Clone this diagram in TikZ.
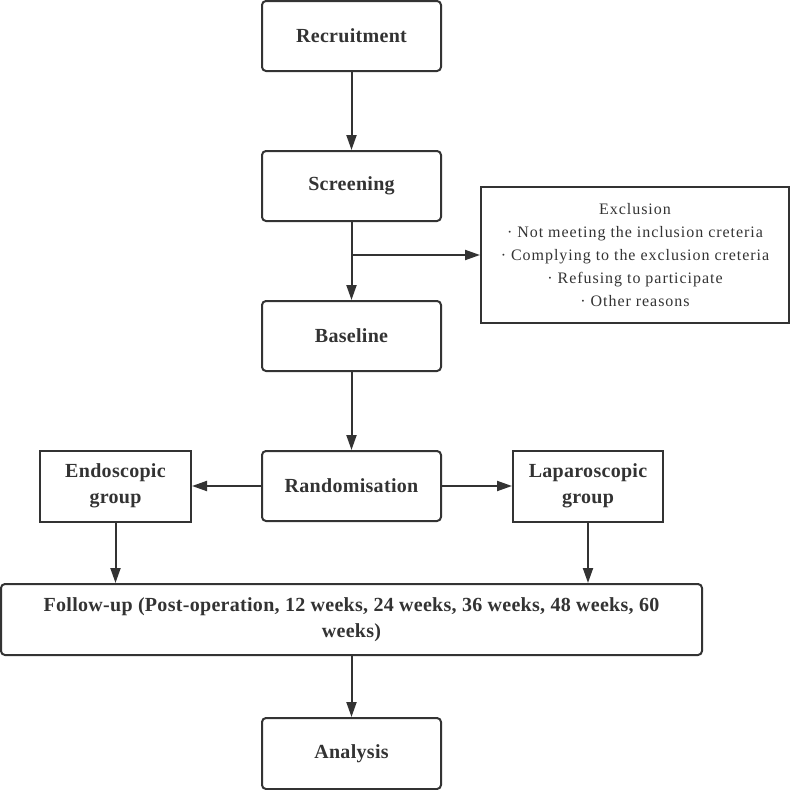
\documentclass[tikz,border=0pt]{standalone}
\usepackage{fontspec}
\setmainfont{Liberation Serif}
\newfontfamily\boxfont[LetterSpace=1.5]{Liberation Serif}
\newfontfamily\exclfont[LetterSpace=6]{Liberation Serif}
\usetikzlibrary{arrows.meta,positioning,calc}
\definecolor{ink}{HTML}{333333}

\tikzset{
    box/.style={draw=ink, line width=2pt, rounded corners=4pt, text=ink,
        minimum width=179pt, minimum height=70pt, align=center,
        font=\boxfont\fontsize{20}{26}\selectfont\bfseries},
    groupbox/.style={box, rounded corners=0pt, minimum width=151pt, minimum height=71pt},
    exclbox/.style={draw=ink, line width=2pt, text=ink, align=center,
        minimum width=308pt, minimum height=136pt,
        font=\exclfont\fontsize{16}{23}\selectfont},
    flow/.style={draw=ink, line width=2pt, -{Triangle[length=15pt,width=10pt]}}
}

\begin{document}
\begin{tikzpicture}[x=1pt, y=-1pt]
    \useasboundingbox (0,0) rectangle (790,790);

    % Draw the main column of boxes
    \node[box] (rec) at (351.5,36) {Recruitment};
    \node[box] (scr) at (351.5,186) {Screening};
    \node[box] (base) at (351.5,336) {Baseline};
    \node[box] (rand) at (351.5,486) {Randomisation};

    % Draw the two groups
    \node[groupbox] (endo) at (115.5,486) {Endoscopic\\group};
    \node[groupbox, minimum width=150pt] (lap) at (588,486) {Laparoscopic\\group};

    % Draw the follow-up and analysis boxes
    \node[box, minimum width=701pt, minimum height=71pt] (fol) at (351.5,619.5)
        {Follow-up (Post-operation, 12 weeks, 24 weeks, 36 weeks, 48 weeks, 60\\weeks)};
    \node[box, minimum height=71pt] (ana) at (351.5,753.5) {Analysis};

    % Draw the exclusion box
    \node[exclbox, text depth=-2pt] (excl) at (635,255) {Exclusion\\
        · Not meeting the inclusion creteria\\
        · Complying to the exclusion creteria\\
        · Refusing to participate\\
        · Other reasons};

    % Draw the arrows
    \coordinate (br) at (scr.south |- excl.west);
    \draw[flow] (rec) -- (scr);
    \draw[flow] (scr) -- (base);
    \draw[flow] (br) -- (excl.west);
    \draw[flow] (base) -- (rand);
    \draw[flow] (rand) -- (endo);
    \draw[flow] (rand) -- (lap);
    \draw[flow] (endo.south) -- (endo.south |- fol.north);
    \draw[flow] (lap.south) -- (lap.south |- fol.north);
    \draw[flow] (fol) -- (ana);
\end{tikzpicture}
\end{document}
